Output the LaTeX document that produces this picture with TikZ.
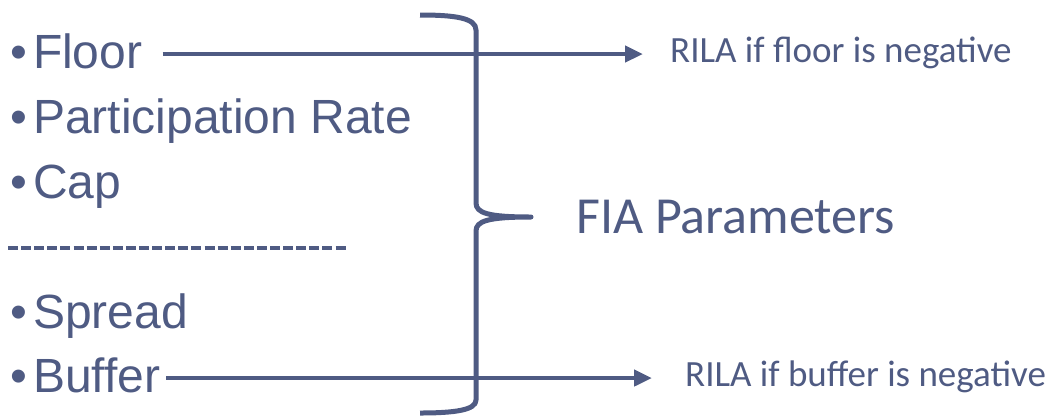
\documentclass[tikz,border=0pt]{standalone}
\usepackage{fontspec}
\setmainfont{Liberation Sans}
\newfontfamily\calib{Carlito}
\usetikzlibrary{arrows.meta,positioning}
\definecolor{slate}{HTML}{4F5B83}

\begin{document}
\begin{tikzpicture}[x=1pt,y=-1pt,
    item/.style={anchor=base west,inner sep=0pt,text=slate,
      font=\fontsize{48}{57}\selectfont},
    note/.style={anchor=base west,inner sep=0pt,text=slate,
      text height=24pt,text depth=8pt,font=\calib\fontsize{37}{44}\selectfont},
    flow/.style={draw=slate,line width=4.5pt,-{Triangle[length=18pt,width=16pt]}}]
  \useasboundingbox (0,0) rectangle (1057,416);

  % parameter list
  \node[item] (floor) at (10,68) {\textbullet\hspace{6pt}Floor};
  \node[item] (part) at (10,133) {\textbullet\hspace{6pt}Participation Rate};
  \node[item] (cap) at (10,198) {\textbullet\hspace{6pt}Cap};
  \draw[slate,line width=4pt,dash pattern=on 10pt off 3.1pt] (8,248) -- (348,248);
  \node[item] (spread) at (10,328) {\textbullet\hspace{6pt}Spread};
  \node[item] (buffer) at (10,392) {\textbullet\hspace{6pt}Buffer};

  % outcomes on the right
  \node[note] (floorneg) at (670,62) {RILA if floor is negative};
  \node[note] (bufferneg) at (685,386) {RILA if buffer is negative};
  \draw[flow] ([xshift=20pt]floor.east |- floorneg.west) -- ([xshift=-27pt]floorneg.west);
  \draw[flow] ([xshift=6pt]buffer.east |- bufferneg.west) -- ([xshift=-33pt]bufferneg.west);

  % big brace
  \draw[slate,line width=5pt,line join=round]
    (420,15) .. controls (455,15) and (476,18) .. (476,30) -- (476,203)
    .. controls (476,213) and (488,217) .. (531,217)
    .. controls (488,217) and (476,221) .. (476,231) -- (476,400)
    .. controls (476,410) and (455,413) .. (420,413);
  \coordinate (tip) at (531,217);
  \node[right=45pt of tip,inner sep=0pt,text=slate,
    font=\calib\fontsize{52}{62}\selectfont] (fia) {FIA Parameters};
\end{tikzpicture}
\end{document}
